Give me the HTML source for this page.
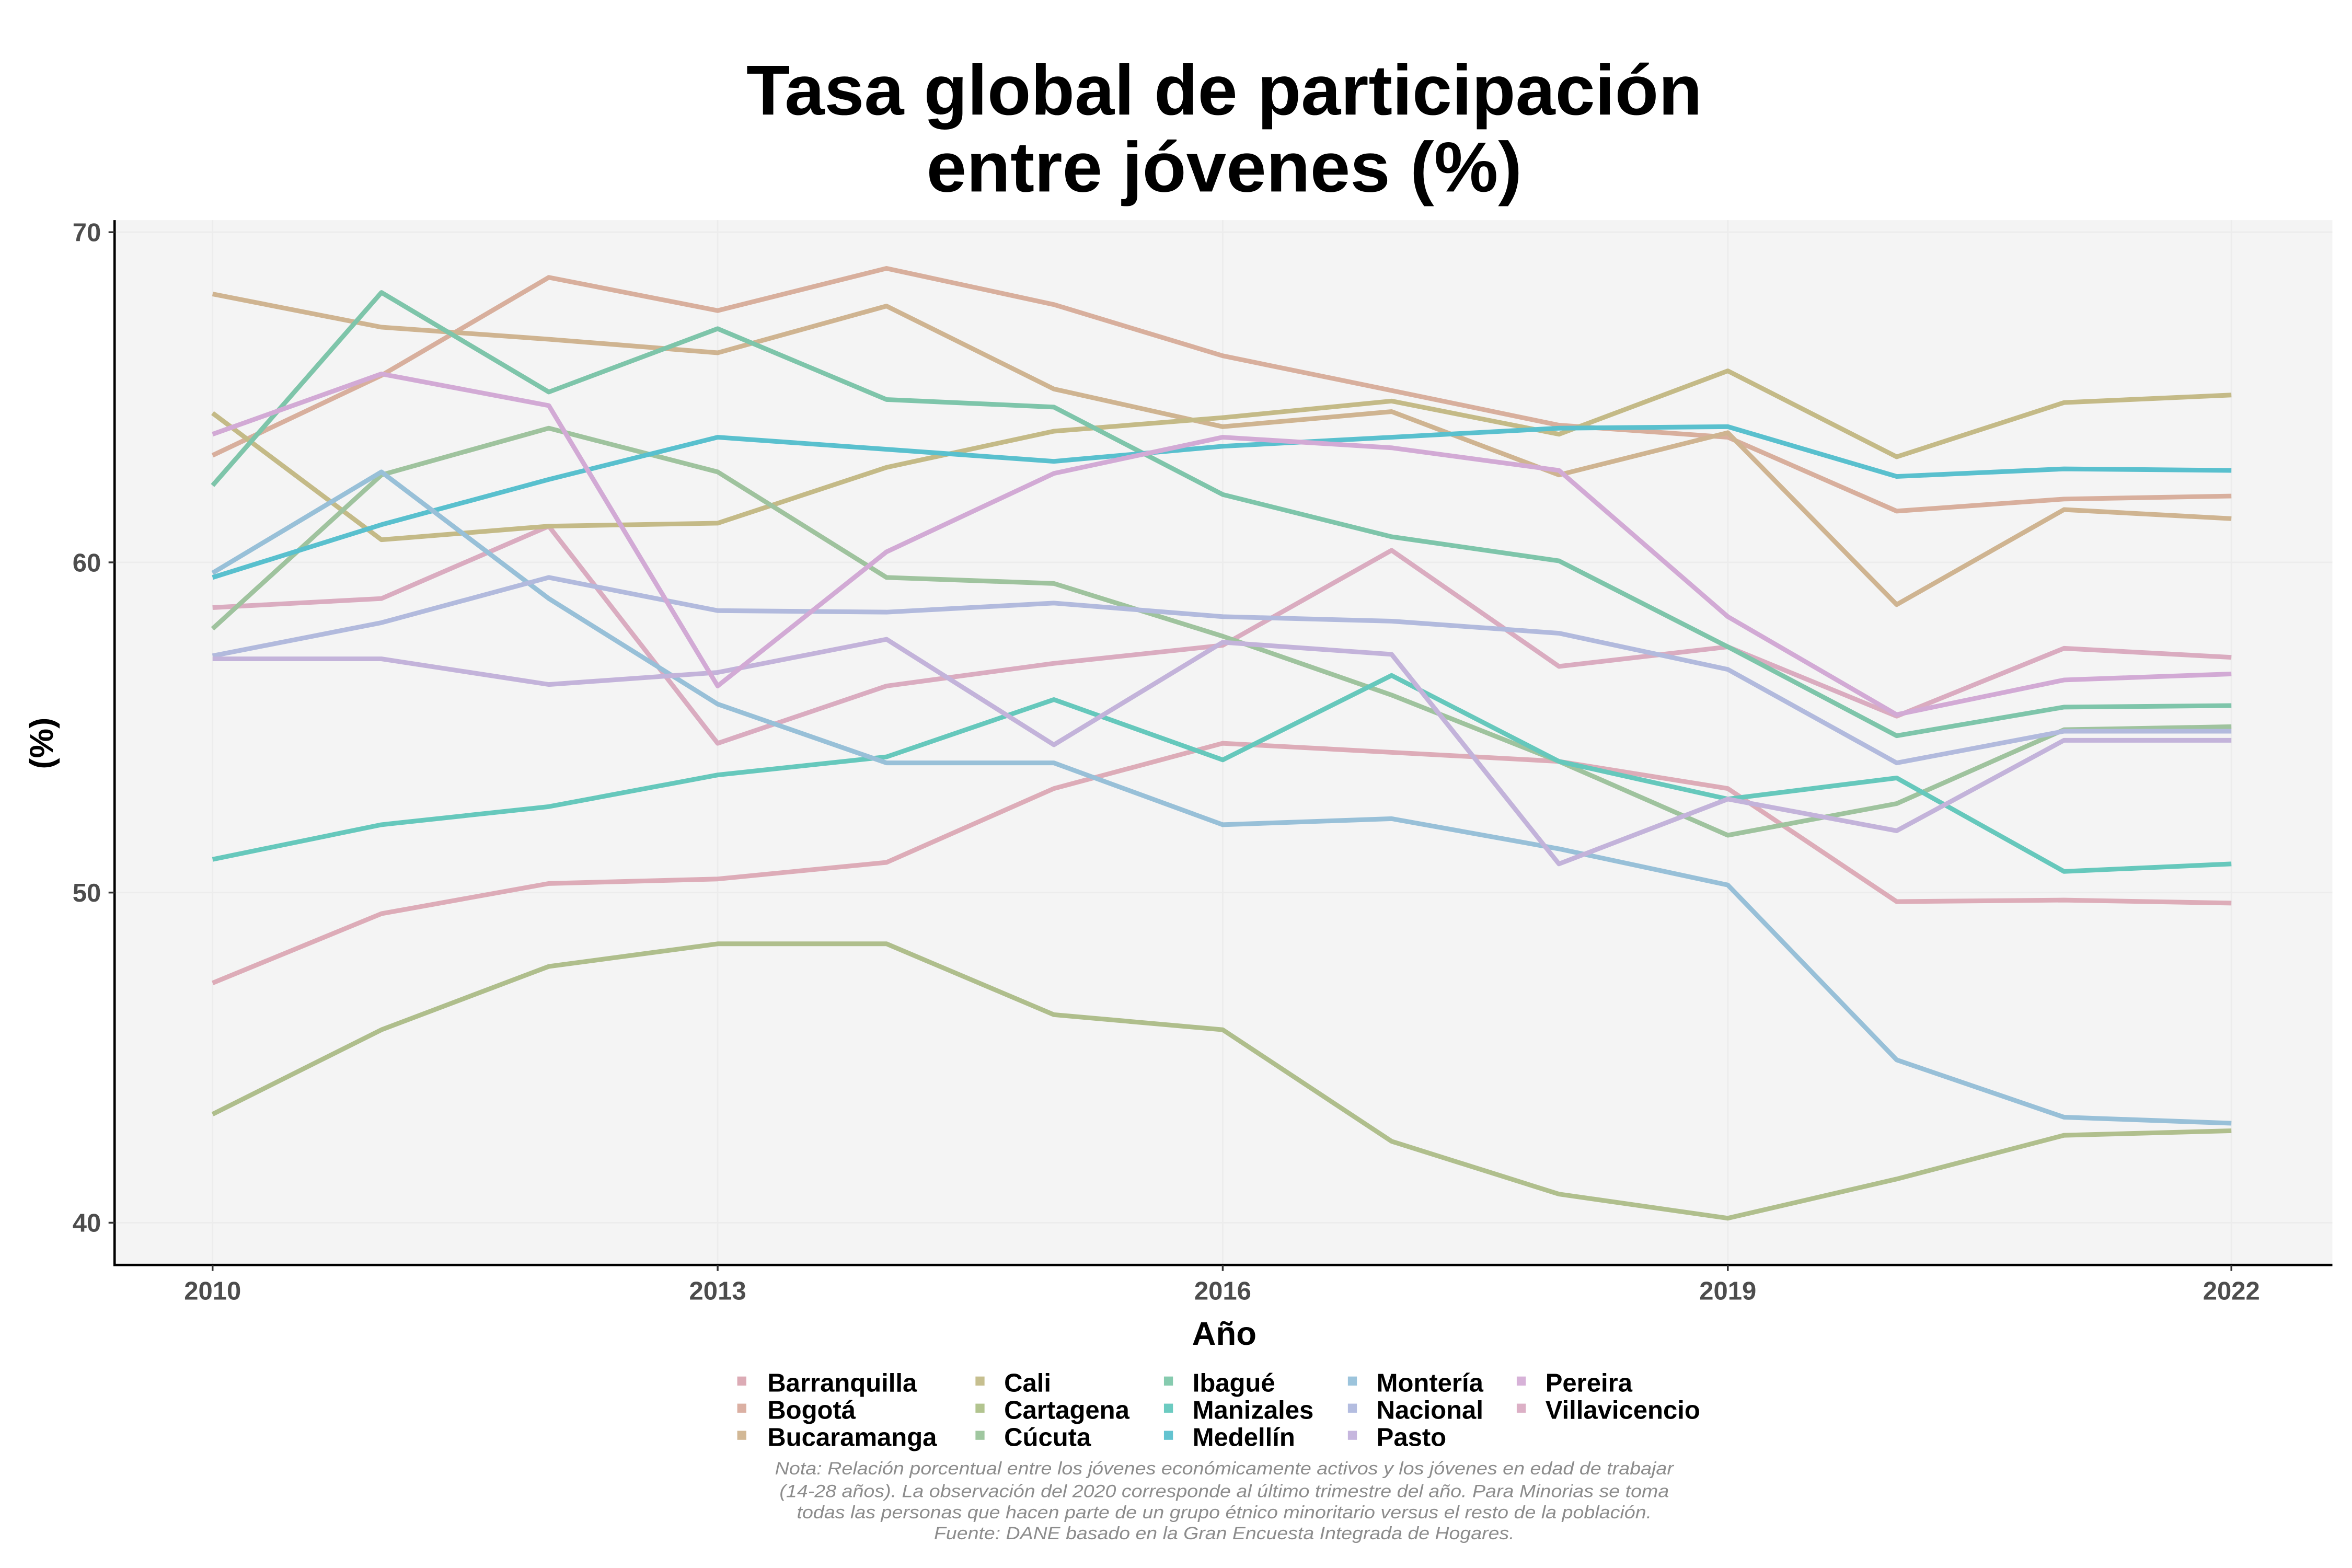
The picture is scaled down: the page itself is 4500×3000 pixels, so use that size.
<!DOCTYPE html>
<html><head><meta charset="utf-8"><style>html,body{margin:0;padding:0;background:#fff}svg{display:block}</style></head>
<body>
<svg xmlns="http://www.w3.org/2000/svg" width="4500" height="3000" viewBox="0 0 1560 1040" font-family="Liberation Sans, Arial, sans-serif">
<rect width="1560" height="1040" fill="#fff"/>
<rect x="76" y="146" width="1471" height="693" fill="#f4f4f4"/>
<g stroke="#ececec" stroke-width="1">
<line x1="76" x2="1547" y1="811" y2="811"/><line x1="76" x2="1547" y1="592" y2="592"/><line x1="76" x2="1547" y1="373" y2="373"/><line x1="76" x2="1547" y1="154" y2="154"/>
<line y1="146" y2="839" x1="141" x2="141"/><line y1="146" y2="839" x1="476" x2="476"/><line y1="146" y2="839" x1="811" x2="811"/><line y1="146" y2="839" x1="1146" x2="1146"/><line y1="146" y2="839" x1="1480" x2="1480"/>
</g>
<g fill="none" stroke-width="3.1" stroke-linejoin="round" opacity="0.85">
<polyline stroke="#d9a0ae" points="141,652 253,606 364,586 476,583 588,572 699,523 811,493 923,499 1034,505 1146,523 1258,598 1369,597 1480,599"/>
<polyline stroke="#d6a0b8" points="141,403 253,397 364,349 476,493 588,455 699,440 811,428 923,365 1034,442 1146,429 1258,475 1369,430 1480,436"/>
<polyline stroke="#d4a48f" points="141,302 253,249 364,184 476,206 588,178 699,202 811,236 923,259 1034,282 1146,290 1258,339 1369,331 1480,329"/>
<polyline stroke="#c9aa80" points="141,195 253,217 364,225 476,234 588,203 699,258 811,283 923,273 1034,315 1146,287 1258,401 1369,338 1480,344"/>
<polyline stroke="#bcb174" points="141,274 253,358 364,349 476,347 588,310 699,286 811,277 923,266 1034,288 1146,246 1258,303 1369,267 1480,262"/>
<polyline stroke="#a3b57a" points="141,739 253,683 364,641 476,626 588,626 699,673 811,683 923,757 1034,792 1146,808 1258,782 1369,753 1480,750"/>
<polyline stroke="#91bb90" points="141,417 253,315 364,284 476,313 588,383 699,387 811,422 923,461 1034,505 1146,554 1258,533 1369,484 1480,482"/>
<polyline stroke="#6abd9e" points="141,322 253,194 364,260 476,218 588,265 699,270 811,328 923,356 1034,372 1146,429 1258,488 1369,469 1480,468"/>
<polyline stroke="#4ec1b3" points="141,570 253,547 364,535 476,514 588,502 699,464 811,504 923,448 1034,505 1146,530 1258,516 1369,578 1480,573"/>
<polyline stroke="#3fb8c8" points="141,383 253,348 364,318 476,290 588,298 699,306 811,296 923,290 1034,284 1146,283 1258,316 1369,311 1480,312"/>
<polyline stroke="#88b8d4" points="141,380 253,313 364,397 476,467 588,506 699,506 811,547 923,543 1034,563 1146,587 1258,703 1369,741 1480,745"/>
<polyline stroke="#a7b1da" points="141,435 253,413 364,383 476,405 588,406 699,400 811,409 923,412 1034,420 1146,444 1258,506 1369,485 1480,485"/>
<polyline stroke="#bba8d6" points="141,437 253,437 364,454 476,446 588,424 699,494 811,426 923,434 1034,573 1146,530 1258,551 1369,491 1480,491"/>
<polyline stroke="#cd9ed0" points="141,288 253,248 364,269 476,455 588,366 699,314 811,290 923,297 1034,312 1146,409 1258,474 1369,451 1480,447"/>
</g>
<g stroke="#000" stroke-width="1.6" fill="none"><polyline points="76,146 76,839 1547,839"/></g>
<g stroke="#333" stroke-width="1.2">
<line x1="72" x2="76" y1="811" y2="811"/><line x1="72" x2="76" y1="592" y2="592"/><line x1="72" x2="76" y1="373" y2="373"/><line x1="72" x2="76" y1="154" y2="154"/>
<line y1="839" y2="843" x1="141" x2="141"/><line y1="839" y2="843" x1="476" x2="476"/><line y1="839" y2="843" x1="811" x2="811"/><line y1="839" y2="843" x1="1146" x2="1146"/><line y1="839" y2="843" x1="1480" x2="1480"/>
</g>
<g fill="#4d4d4d" font-weight="bold" font-size="17">
<text x="67" y="817" text-anchor="end">40</text><text x="67" y="598" text-anchor="end">50</text><text x="67" y="379" text-anchor="end">60</text><text x="67" y="160" text-anchor="end">70</text>
<g text-anchor="middle"><text x="141" y="862">2010</text><text x="476" y="862">2013</text><text x="811" y="862">2016</text><text x="1146" y="862">2019</text><text x="1480" y="862">2022</text></g>
</g>
<text x="812" y="892" text-anchor="middle" font-weight="bold" font-size="22">Año</text>
<text transform="translate(35,493) rotate(-90)" text-anchor="middle" font-weight="bold" font-size="22">(%)</text>
<g font-weight="bold" font-size="47" text-anchor="middle">
<text x="812" y="76" textLength="634" lengthAdjust="spacingAndGlyphs">Tasa global de participación</text>
<text x="812" y="127" textLength="395" lengthAdjust="spacingAndGlyphs">entre jóvenes (%)</text>
</g>
<g font-weight="bold" font-size="17">
<rect x="489" y="913" width="6" height="6" fill="#dcabb5"/><text x="509" y="923">Barranquilla</text>
<rect x="489" y="931" width="6" height="6" fill="#dbb0a3"/><text x="509" y="941">Bogotá</text>
<rect x="489" y="949" width="6" height="6" fill="#d2b896"/><text x="509" y="959">Bucaramanga</text>
<rect x="647" y="913" width="6" height="6" fill="#c6bf8f"/><text x="666" y="923">Cali</text>
<rect x="647" y="931" width="6" height="6" fill="#b2c48f"/><text x="666" y="941">Cartagena</text>
<rect x="647" y="949" width="6" height="6" fill="#a0c7a0"/><text x="666" y="959">Cúcuta</text>
<rect x="772" y="913" width="6" height="6" fill="#86cbaf"/><text x="791" y="923">Ibagué</text>
<rect x="772" y="931" width="6" height="6" fill="#6ccbc1"/><text x="791" y="941">Manizales</text>
<rect x="772" y="949" width="6" height="6" fill="#63c3d0"/><text x="791" y="959">Medellín</text>
<rect x="894" y="913" width="6" height="6" fill="#9cc4dc"/><text x="913" y="923">Montería</text>
<rect x="894" y="931" width="6" height="6" fill="#b4bde0"/><text x="913" y="941">Nacional</text>
<rect x="894" y="949" width="6" height="6" fill="#c6b6de"/><text x="913" y="959">Pasto</text>
<rect x="1006" y="913" width="6" height="6" fill="#d7b2d8"/><text x="1025" y="923">Pereira</text>
<rect x="1006" y="931" width="6" height="6" fill="#dcb0c6"/><text x="1025" y="941">Villavicencio</text>
</g>
<g fill="#8c8c8c" font-style="italic" font-size="12" text-anchor="middle">
<text x="812" y="978" textLength="596" lengthAdjust="spacingAndGlyphs">Nota: Relación porcentual entre los jóvenes económicamente activos y los jóvenes en edad de trabajar</text>
<text x="812" y="993" textLength="590" lengthAdjust="spacingAndGlyphs">(14-28 años). La observación del 2020 corresponde al último trimestre del año. Para Minorias se toma</text>
<text x="812" y="1007" textLength="567" lengthAdjust="spacingAndGlyphs">todas las personas que hacen parte de un grupo étnico minoritario versus el resto de la población.</text>
<text x="812" y="1021" textLength="385" lengthAdjust="spacingAndGlyphs">Fuente: DANE basado en la Gran Encuesta Integrada de Hogares.</text>
</g>
</svg>
</body></html>
